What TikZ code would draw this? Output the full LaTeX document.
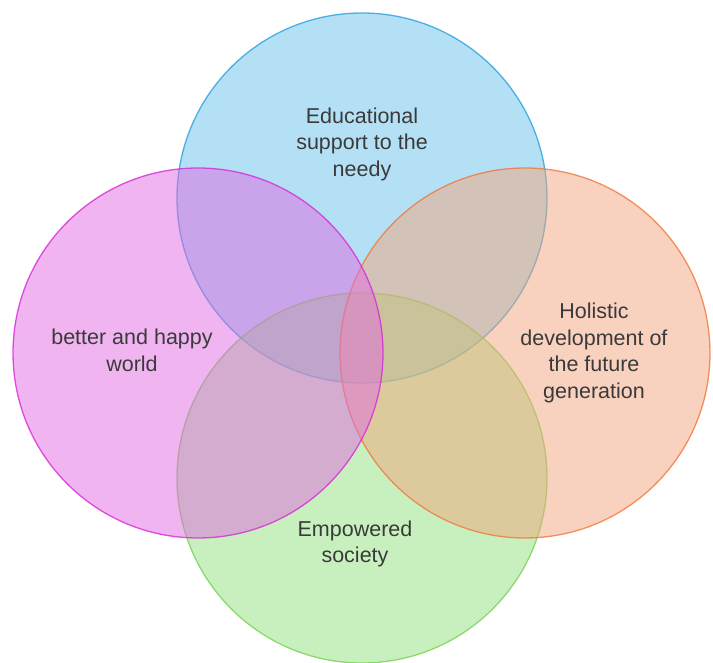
\documentclass[tikz,border=0pt]{standalone}
\usepackage{fontspec}
\setmainfont{Liberation Sans}
\definecolor{cblue}{RGB}{105,193,235}
\definecolor{cbluel}{RGB}{40,160,220}
\definecolor{cmag}{RGB}{225,105,225}
\definecolor{cmagl}{RGB}{215,40,215}
\definecolor{corg}{RGB}{241,165,125}
\definecolor{corgl}{RGB}{240,120,60}
\definecolor{cgrn}{RGB}{145,225,125}
\definecolor{cgrnl}{RGB}{120,210,80}
\definecolor{txt}{RGB}{58,58,58}
\begin{document}
\begin{tikzpicture}[x=1pt,y=-1pt,
  venn/.style={circle,minimum size=370pt,inner sep=0pt,line width=1.3pt,fill opacity=0.5,draw opacity=0.8},
  lbl/.style={align=center,text=txt,font=\fontsize{21.5pt}{26.5pt}\selectfont}]
\useasboundingbox (0,0) rectangle (713,663);
\node[venn,fill=cblue,draw=cbluel] (blue) at (362,198) {};
\node[venn,fill=cgrn,draw=cgrnl] (grn) at (362,478) {};
\node[venn,fill=corg,draw=corgl] (org) at (525,353) {};
\node[venn,fill=cmag,draw=cmagl] (mag) at (198,353) {};
\node[lbl] (tb) at (362,144) {Educational\\support to the\\needy};
\node[lbl] (tm) at (132,350.5) {better and happy\\world};
\node[lbl] (to) at (594,353) {Holistic\\development of\\the future\\generation};
\node[lbl] (tg) at (355,544) {Empowered\\society};
\end{tikzpicture}
\end{document}
